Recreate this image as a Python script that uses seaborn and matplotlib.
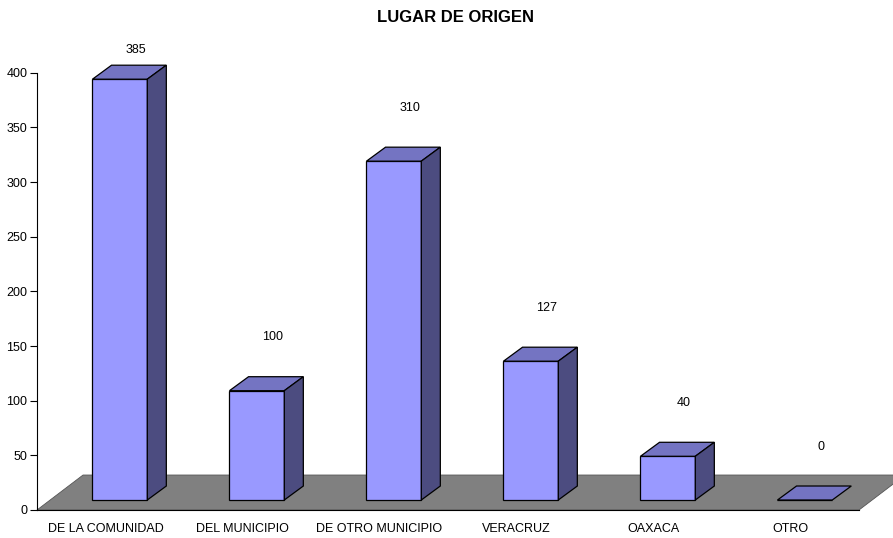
import numpy as np
import pandas as pd
import matplotlib
matplotlib.use("Agg")
import matplotlib.pyplot as plt
from matplotlib.patches import Polygon
import seaborn as sns

# data
categories = ["DE LA COMUNIDAD", "DEL MUNICIPIO", "DE OTRO MUNICIPIO",
              "VERACRUZ", "OAXACA", "OTRO"]
values = [385, 100, 310, 127, 40, 0]
y_ticks = [0, 50, 100, 150, 200, 250, 300, 350, 400]
title = "LUGAR DE ORIGEN"

# colours (excel-like 3d bars)
front_color = "#9999FF"
top_color = "#7474C2"
side_color = "#4C4C80"
floor_color = "#808080"

# 3d geometry in data units (x: category units, y: value units)
floor_dx, floor_dy = 0.336, 32.0
bar_shift, bar_base = 0.105, 9.15
bar_dx, bar_dy = 0.139, 12.8
bar_width = 0.40

sns.set_style("white")
plt.rcParams["font.family"] = ["Liberation Sans", "DejaVu Sans"]
plt.rcParams["text.color"] = "black"
plt.rcParams["xtick.color"] = "black"
plt.rcParams["ytick.color"] = "black"

df = pd.DataFrame({"origen": categories, "total": values})

fig = plt.figure(figsize=(8.93, 5.38), dpi=100)
ax = fig.add_axes([37 / 893, 28 / 538, 822 / 893, 470 / 538])

# floor
n = len(categories)
floor = Polygon([(-0.5, 0), (n - 0.5, 0), (n - 0.5 + floor_dx, floor_dy),
                 (-0.5 + floor_dx, floor_dy)], closed=True,
                facecolor=floor_color, edgecolor="#555555", linewidth=0.6,
                zorder=1, clip_on=False)
ax.add_patch(floor)

sns.barplot(data=df, x="origen", y="total", color=front_color, saturation=1,
            width=bar_width, bottom=bar_base, edgecolor="black", linewidth=0.9,
            ax=ax, zorder=3)

for p in list(ax.patches):
    if p is floor:
        continue
    p.set_x(p.get_x() + bar_shift)
    x0, y0, w, h = p.get_x(), p.get_y(), p.get_width(), p.get_height()
    top = Polygon([(x0, y0 + h), (x0 + w, y0 + h),
                   (x0 + w + bar_dx, y0 + h + bar_dy), (x0 + bar_dx, y0 + h + bar_dy)],
                  closed=True, facecolor=top_color, edgecolor="black",
                  linewidth=0.9, zorder=3, clip_on=False)
    ax.add_patch(top)
    if h > 0:
        side = Polygon([(x0 + w, y0), (x0 + w + bar_dx, y0 + bar_dy),
                        (x0 + w + bar_dx, y0 + h + bar_dy), (x0 + w, y0 + h)],
                       closed=True, facecolor=side_color, edgecolor="black",
                       linewidth=0.9, zorder=3, clip_on=False)
        ax.add_patch(side)

# value labels
for i, v in enumerate(values):
    ax.text(i + 0.22, min(v + 58, 421), str(v), ha="center", va="center",
            fontsize=9, color="black")

ax.set_xlim(-0.5, n - 0.5)
ax.set_ylim(0, 430)
ax.set_yticks(y_ticks)
ax.set_xticks(range(n))
ax.set_xticklabels(categories)
ax.set_xticks(np.arange(-0.5, n, 1.0), minor=True)
ax.tick_params(axis="x", which="major", length=0, pad=9, labelsize=9)
ax.tick_params(axis="x", which="minor", length=6, width=0.8, direction="out",
               color="black")
ax.tick_params(axis="y", length=5, width=0.8, direction="out", pad=2,
               labelsize=9, color="black", left=True)
ax.set_xlabel("")
ax.set_ylabel("")

for s in ["top", "right"]:
    ax.spines[s].set_visible(False)
ax.spines["left"].set_bounds(0, 400)
for s in ["left", "bottom"]:
    ax.spines[s].set_color("black")
    ax.spines[s].set_linewidth(0.8)
    ax.spines[s].set_zorder(4)

fig.text(456 / 893, 1 - 18 / 538, title, ha="center", va="center",
         fontsize=12, fontweight="bold", color="black")

fig.savefig("out.png", dpi=100, facecolor="white")
